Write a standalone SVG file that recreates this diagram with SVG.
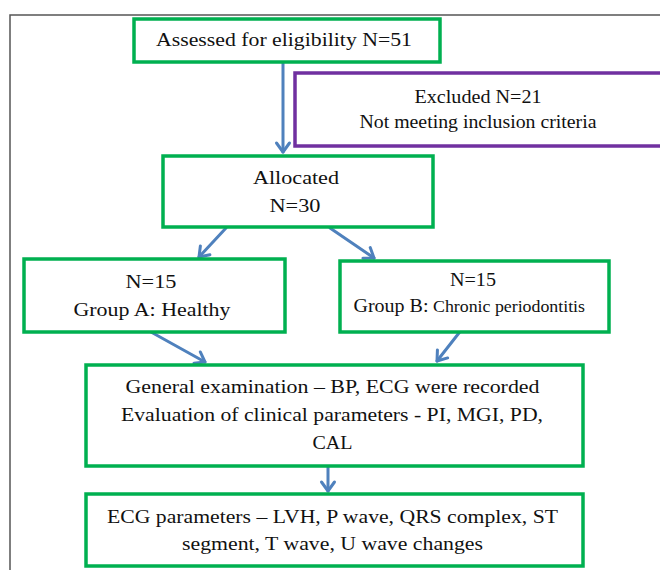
<svg xmlns="http://www.w3.org/2000/svg" width="660" height="570" viewBox="0 0 660 570">
<style>
.box{fill:#fff;stroke:#00B050;stroke-width:3.5}
.purple{fill:#fff;stroke:#7030A0;stroke-width:3.5}
.t{font-family:"Liberation Serif","Times New Roman",serif;font-size:19.5px;fill:#111;text-anchor:middle}
.s{font-size:16px}
.conn{stroke:#4F81BD;stroke-width:3;fill:none;stroke-linecap:round}
</style>
<defs>
<marker id="arr" viewBox="-12 -9 15 18" refX="0" refY="0" markerWidth="15" markerHeight="18" markerUnits="userSpaceOnUse" orient="auto">
<path d="M-9,-6.5 L0,0 L-9,6.5" fill="none" stroke="#4F81BD" stroke-width="3" stroke-linecap="round" stroke-linejoin="round"/>
</marker>
</defs>
<rect width="660" height="570" fill="#fff"/>
<path d="M10,575 L10,15 L665,15" fill="none" stroke="#555" stroke-width="1.5"/>
<g id="connectors">
<line class="conn" x1="283" y1="63" x2="283" y2="152" marker-end="url(#arr)"/>
<line class="conn" x1="226" y1="228" x2="199" y2="257" marker-end="url(#arr)"/>
<line class="conn" x1="330" y1="228" x2="374" y2="258" marker-end="url(#arr)"/>
<line class="conn" x1="151" y1="332" x2="205" y2="362" marker-end="url(#arr)"/>
<line class="conn" x1="466" y1="324" x2="437" y2="361" marker-end="url(#arr)"/>
<line class="conn" x1="328" y1="467" x2="328" y2="491" marker-end="url(#arr)"/>
</g>
<g id="assessed">
<rect class="box" x="134" y="19" width="306" height="43"/>
<text class="t" x="284" y="46" textLength="256" lengthAdjust="spacingAndGlyphs">Assessed for eligibility N=51</text>
</g>
<g id="excluded">
<rect class="purple" x="295" y="73" width="375" height="73"/>
<text class="t" x="478" y="103" textLength="127" lengthAdjust="spacingAndGlyphs">Excluded N=21</text>
<text class="t" x="478" y="128" textLength="237" lengthAdjust="spacingAndGlyphs">Not meeting inclusion criteria</text>
</g>
<g id="allocated">
<rect class="box" x="163" y="156" width="270" height="71"/>
<text class="t" x="296" y="184" textLength="86" lengthAdjust="spacingAndGlyphs">Allocated</text>
<text class="t" x="295" y="212" textLength="51" lengthAdjust="spacingAndGlyphs">N=30</text>
</g>
<g id="groupA">
<rect class="box" x="24" y="259" width="261" height="73"/>
<text class="t" x="151" y="288" textLength="51" lengthAdjust="spacingAndGlyphs">N=15</text>
<text class="t" x="152" y="316" textLength="157" lengthAdjust="spacingAndGlyphs">Group A: Healthy</text>
</g>
<g id="groupB">
<rect class="box" x="340" y="261" width="269" height="71"/>
<text class="t" x="473" y="286" textLength="46" lengthAdjust="spacingAndGlyphs">N=15</text>
<text class="t" x="391" y="312" textLength="75" lengthAdjust="spacingAndGlyphs">Group B:</text>
<text class="t s" x="509" y="312" textLength="152" lengthAdjust="spacingAndGlyphs">Chronic periodontitis</text>
</g>
<g id="general">
<rect class="box" x="86" y="365" width="497" height="101"/>
<text class="t" x="332.5" y="393" textLength="414" lengthAdjust="spacingAndGlyphs">General examination – BP, ECG were recorded</text>
<text class="t" x="332" y="421" textLength="422" lengthAdjust="spacingAndGlyphs">Evaluation of clinical parameters - PI, MGI, PD,</text>
<text class="t" x="332.5" y="449" textLength="40" lengthAdjust="spacingAndGlyphs">CAL</text>
</g>
<g id="ecg">
<rect class="box" x="86" y="494" width="497" height="72"/>
<text class="t" x="332.5" y="523" textLength="451" lengthAdjust="spacingAndGlyphs">ECG parameters – LVH, P wave, QRS complex, ST</text>
<text class="t" x="332.5" y="550" textLength="301" lengthAdjust="spacingAndGlyphs">segment, T wave, U wave changes</text>
</g>
</svg>
